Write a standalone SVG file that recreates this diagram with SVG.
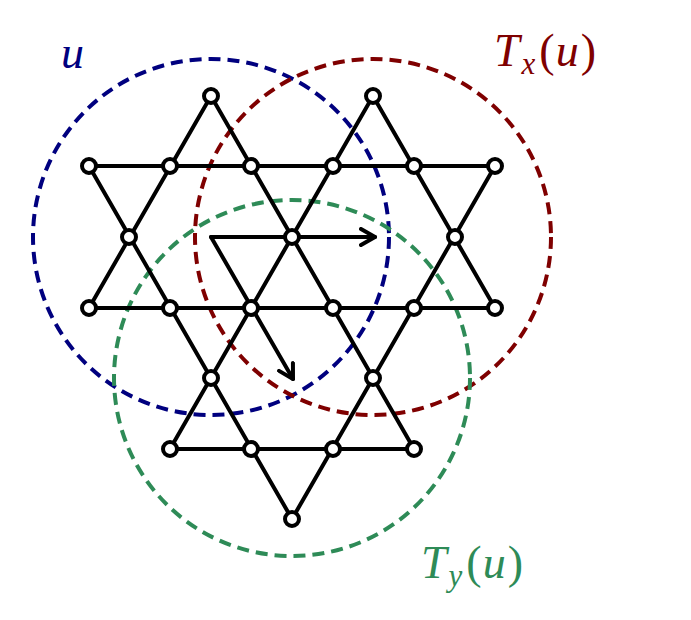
<svg xmlns="http://www.w3.org/2000/svg" width="691" height="620" viewBox="0 0 691 620">
<defs>
<style>
.edge{stroke:#000;stroke-width:4;fill:none;stroke-linecap:round}
.node{fill:#fff;stroke:#000;stroke-width:4}
.ring{fill:none;stroke-width:4;stroke-dasharray:12 7}
.lbl{font-family:"Liberation Serif","DejaVu Serif",serif;font-style:italic}
</style>
<marker id="ah" viewBox="0 0 20 20" refX="16" refY="10" markerWidth="20" markerHeight="20" markerUnits="userSpaceOnUse" orient="auto">
<path d="M2,2 L16,10 L2,18" fill="none" stroke="#000" stroke-width="4" stroke-linecap="round" stroke-linejoin="round"/>
</marker>
</defs>
<rect width="691" height="620" fill="#fff"/>
<g id="rings">
<circle class="ring" cx="211" cy="237" r="178" stroke="#00007F"/>
<circle class="ring" cx="373" cy="237" r="178" stroke="#7F0000"/>
<circle class="ring" cx="292" cy="378" r="178" stroke="#2E8B57"/>
</g>
<g id="connectors">
<line class="edge" x1="89" y1="166" x2="495" y2="166"/>
<line class="edge" x1="89" y1="308" x2="495" y2="308"/>
<line class="edge" x1="170" y1="449" x2="414" y2="449"/>
<line class="edge" x1="89" y1="166" x2="292" y2="519"/>
<line class="edge" x1="89" y1="308" x2="211" y2="96"/>
<line class="edge" x1="211" y1="96" x2="414" y2="449"/>
<line class="edge" x1="373" y1="96" x2="170" y2="449"/>
<line class="edge" x1="373" y1="96" x2="495" y2="308"/>
<line class="edge" x1="495" y1="166" x2="292" y2="519"/>
<line class="edge" x1="211" y1="237" x2="375" y2="237" marker-end="url(#ah)"/>
<line class="edge" x1="211" y1="237" x2="293" y2="379" marker-end="url(#ah)"/>
</g>
<g id="nodes">
<circle class="node" cx="211" cy="96" r="7"/>
<circle class="node" cx="373" cy="96" r="7"/>
<circle class="node" cx="89" cy="166" r="7"/>
<circle class="node" cx="170" cy="166" r="7"/>
<circle class="node" cx="251" cy="166" r="7"/>
<circle class="node" cx="333" cy="166" r="7"/>
<circle class="node" cx="414" cy="166" r="7"/>
<circle class="node" cx="495" cy="166" r="7"/>
<circle class="node" cx="129" cy="237" r="7"/>
<circle class="node" cx="292" cy="237" r="7"/>
<circle class="node" cx="455" cy="237" r="7"/>
<circle class="node" cx="89" cy="308" r="7"/>
<circle class="node" cx="170" cy="308" r="7"/>
<circle class="node" cx="251" cy="308" r="7"/>
<circle class="node" cx="333" cy="308" r="7"/>
<circle class="node" cx="414" cy="308" r="7"/>
<circle class="node" cx="495" cy="308" r="7"/>
<circle class="node" cx="211" cy="378" r="7"/>
<circle class="node" cx="373" cy="378" r="7"/>
<circle class="node" cx="170" cy="449" r="7"/>
<circle class="node" cx="251" cy="449" r="7"/>
<circle class="node" cx="333" cy="449" r="7"/>
<circle class="node" cx="414" cy="449" r="7"/>
<circle class="node" cx="292" cy="519" r="7"/>
</g>
<g id="labels">
<text class="lbl" x="61" y="68" font-size="46" fill="#00007F">u</text>
<text class="lbl" x="494" y="66" font-size="46" fill="#7F0000">T<tspan font-size="31" dx="2" dy="8">x</tspan><tspan dx="4" dy="-8" font-style="normal">(</tspan><tspan dx="1">u</tspan><tspan dx="2" font-style="normal">)</tspan></text>
<text class="lbl" x="421" y="578" font-size="46" fill="#2E8B57">T<tspan font-size="31" dx="2" dy="8">y</tspan><tspan dx="4" dy="-8" font-style="normal">(</tspan><tspan dx="1">u</tspan><tspan dx="2" font-style="normal">)</tspan></text>
</g>
</svg>
